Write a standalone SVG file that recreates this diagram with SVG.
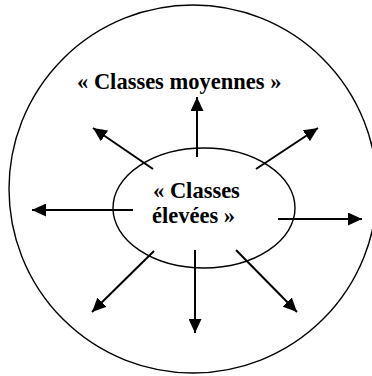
<svg xmlns="http://www.w3.org/2000/svg" width="372" height="376" viewBox="0 0 372 376">
<style>
.shape{fill:none;stroke:#000;stroke-width:1.4}
.arrow{stroke:#000;stroke-width:2;fill:none;marker-end:url(#ah)}
.lbl{font-family:"Liberation Serif","Times New Roman",serif;font-weight:bold;font-size:22.5px;fill:#000}
</style>
<defs>
<marker id="ah" markerUnits="userSpaceOnUse" markerWidth="15" markerHeight="13" refX="14" refY="6.5" orient="auto">
<path d="M0,0 L14,6.5 L0,13 z" fill="#000"/>
</marker>
</defs>
<rect width="372" height="376" fill="#fff"/>
<g id="outer">
<circle class="shape" cx="193" cy="189" r="184"/>
<text class="lbl" x="77" y="89">« Classes moyennes »</text>
</g>
<g id="inner">
<ellipse class="shape" cx="204" cy="208" rx="91" ry="60"/>
<text class="lbl" x="153" y="198">« Classes</text>
<text class="lbl" x="152" y="223">élevées »</text>
</g>
<g id="connectors">
<line class="arrow" x1="197" y1="157" x2="197" y2="97"/>
<line class="arrow" x1="153" y1="169" x2="93" y2="128"/>
<line class="arrow" x1="256" y1="169" x2="318" y2="128"/>
<line class="arrow" x1="133" y1="210" x2="32" y2="210"/>
<line class="arrow" x1="278" y1="219" x2="362" y2="219"/>
<line class="arrow" x1="154" y1="251" x2="92" y2="312"/>
<line class="arrow" x1="195" y1="250" x2="195" y2="333"/>
<line class="arrow" x1="236" y1="250" x2="297" y2="312"/>
</g>
</svg>
